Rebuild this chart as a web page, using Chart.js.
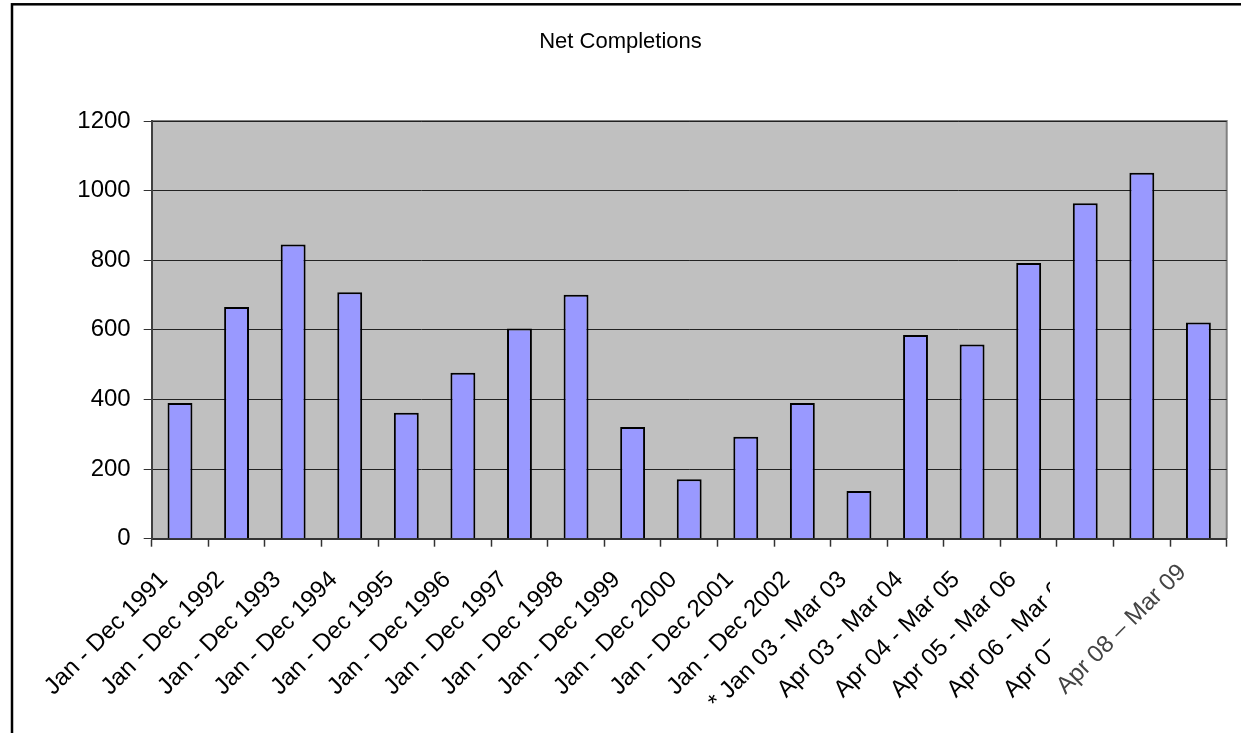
<!DOCTYPE html>
<html>
<head>
<meta charset="utf-8">
<script src="https://cdn.jsdelivr.net/npm/chart.js@4/dist/chart.umd.min.js"></script>
<style>
  html, body { margin: 0; padding: 0; background: #fff; }
  #wrap { width: 1241px; height: 733px; position: relative; }
</style>
</head>
<body>
<div id="wrap"><canvas id="c" width="1241" height="733"></canvas></div>
<script>
const categories = [
  "Jan - Dec 1991", "Jan - Dec 1992", "Jan - Dec 1993", "Jan - Dec 1994",
  "Jan - Dec 1995", "Jan - Dec 1996", "Jan - Dec 1997", "Jan - Dec 1998",
  "Jan - Dec 1999", "Jan - Dec 2000", "Jan - Dec 2001", "Jan - Dec 2002",
  "* Jan 03 - Mar 03", "Apr 03 - Mar 04", "Apr 04 - Mar 05", "Apr 05 - Mar 06",
  "Apr 06 - Mar 07", "Apr 07 - Mar 08", "Apr 08 \u2013 Mar 09"
];
const netCompletions = [390, 666, 845, 708, 362, 477, 604, 701, 321, 171, 293, 390, 137, 585, 558, 792, 964, 1051, 621];
const yTicks = [0, 200, 400, 600, 800, 1000, 1200];
const chartTitle = "Net Completions";

const FONT = "'Liberation Sans', Arial, sans-serif";
const TITLE_FS = 22;
const TICK_FS = 24;

const framePlugin = {
  id: 'framePlugin',
  beforeDraw(chart) {
    const ctx = chart.ctx, a = chart.chartArea;
    ctx.save();
    ctx.fillStyle = '#ffffff';
    ctx.fillRect(0, 0, chart.width, chart.height);
    ctx.fillStyle = '#C0C0C0';
    ctx.fillRect(a.left, a.top, a.right - a.left, a.bottom - a.top);
    ctx.strokeStyle = '#808080';
    ctx.lineWidth = 2;
    ctx.beginPath();
    ctx.moveTo(a.left, a.top);
    ctx.lineTo(a.right, a.top);
    ctx.lineTo(a.right, a.bottom);
    ctx.stroke();
    ctx.restore();
  },
  afterDraw(chart) {
    const ctx = chart.ctx;
    ctx.save();
    // outer chart frame (runs off the right and bottom edges)
    ctx.strokeStyle = '#000';
    ctx.lineWidth = 2.5;
    ctx.strokeRect(12, 4.3, 1400, 1000);
    // white patch over the last labels, as in the reference
    ctx.fillStyle = '#ffffff';
    ctx.fillRect(1050, 552, 191, 181);
    // re-drawn last label
    const xs = chart.scales.x;
    const i = categories.length - 1;
    const px = xs.getPixelForTick(i) - 16;
    const py = xs.top + 8 + 22;
    ctx.translate(px, py);
    ctx.rotate(-Math.PI / 4);
    ctx.font = TICK_FS + "px " + FONT;
    ctx.fillStyle = '#444';
    ctx.textAlign = 'right';
    ctx.textBaseline = 'middle';
    ctx.fillText(chart.data.labels[i], 0, 0);
    ctx.restore();
  }
};

new Chart(document.getElementById('c'), {
  type: 'bar',
  data: {
    labels: categories,
    datasets: [{
      label: chartTitle,
      data: netCompletions,
      backgroundColor: '#9999FF',
      borderColor: '#000000',
      borderWidth: 2,
      barPercentage: 0.44,
      categoryPercentage: 1.0
    }]
  },
  options: {
    responsive: false,
    animation: false,
    devicePixelRatio: 1,
    layout: { padding: { left: 14.3, right: 14.3, top: 0, bottom: 0 } },
    plugins: {
      legend: { display: false },
      tooltip: { enabled: false },
      title: {
        display: true,
        text: chartTitle,
        color: '#000',
        font: { family: FONT, size: TITLE_FS, weight: 'normal', lineHeight: 1.2 },
        padding: { top: 29, bottom: 65.6 }
      }
    },
    scales: {
      x: {
        offset: true,
        grid: {
          display: true,
          offset: true,
          drawOnChartArea: false,
          drawTicks: true,
          tickLength: 8,
          tickColor: '#333',
          tickWidth: 1.5
        },
        border: { display: true, color: '#333', width: 2 },
        ticks: {
          autoSkip: false,
          minRotation: 45,
          maxRotation: 45,
          padding: 19,
          labelOffset: -16,
          color: '#000',
          font: { family: FONT, size: TICK_FS }
        },
        afterFit(scale) { scale.height = 733 - 538.7; }
      },
      y: {
        min: 0,
        max: 1200,
        afterBuildTicks(scale) { scale.ticks = yTicks.map(v => ({ value: v })); },
        grid: {
          color: '#222',
          lineWidth: 1,
          drawTicks: true,
          tickLength: 8,
          tickColor: '#333'
        },
        border: { display: true, color: '#404040', width: 2 },
        ticks: {
          padding: 13,
          color: '#000',
          font: { family: FONT, size: TICK_FS },
          callback: (v) => String(v)
        },
        afterFit(scale) { scale.width = 151.7 - 14.3; }
      }
    }
  },
  plugins: [framePlugin]
});
</script>
</body>
</html>
